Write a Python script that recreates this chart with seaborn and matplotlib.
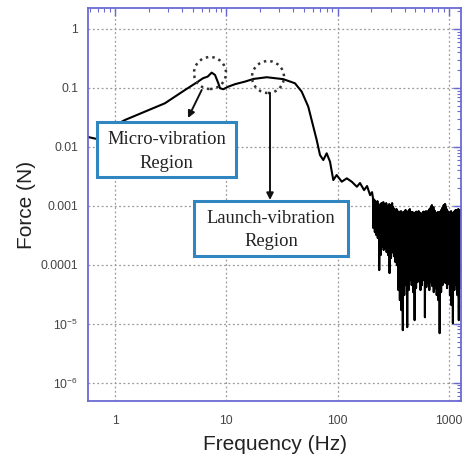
import numpy as np
import pandas as pd
import matplotlib
matplotlib.use("Agg")
import matplotlib.pyplot as plt
import seaborn as sns
from matplotlib.patches import Rectangle, Ellipse
from matplotlib.ticker import FixedLocator, FixedFormatter, LogLocator, NullFormatter

# ---------------- data ----------------
smooth_freq = [0.572, 0.689, 0.902, 1.23, 1.86, 2.81, 4.26, 5.57, 6.17, 6.81, 7.39, 7.92,
               8.48, 8.78, 9.40, 10.4, 12.0, 14.7, 17.5, 23.1, 32.5, 41.4, 47.6, 54.5,
               60.5, 64.9, 69.5, 74.4, 79.8, 85.5, 91.5, 98.1, 109, 121, 134, 149,
               159, 173, 184, 196, 204]
smooth_force = [0.01473, 0.01361, 0.02094, 0.02864, 0.03963, 0.05499, 0.0925, 0.128, 0.146,
                0.156, 0.182, 0.166, 0.120, 0.0989, 0.0951, 0.105, 0.116, 0.128, 0.142,
                0.152, 0.141, 0.120, 0.0866, 0.0482, 0.0221, 0.0131, 0.00728, 0.00599,
                0.00779, 0.00561, 0.00274, 0.00333, 0.00257, 0.00293, 0.00257, 0.00211,
                0.00244, 0.00185, 0.00217, 0.00152, 0.00171]

# noisy high-frequency part: local maxima / deep minima / maxima / body minima
noise_hi = [1.356e-3, 1.254e-3, 1.160e-3, 1.206e-3, 9.92e-4, 1.073e-3, 1.115e-3, 1.160e-3,
            1.032e-3, 1.115e-3, 9.54e-4, 1.073e-3, 9.92e-4, 1.115e-3, 9.18e-4, 8.49e-4,
            8.83e-4, 7.85e-4, 7.55e-4, 8.16e-4, 7.26e-4, 7.85e-4, 8.49e-4, 7.55e-4,
            8.16e-4, 8.83e-4, 7.55e-4, 7.85e-4, 6.98e-4, 7.85e-4, 7.26e-4, 8.16e-4,
            7.55e-4, 6.98e-4, 7.85e-4, 7.26e-4, 8.16e-4, 7.55e-4, 8.49e-4, 9.18e-4,
            1.032e-3, 9.54e-4, 8.16e-4, 7.55e-4, 7.85e-4, 7.26e-4, 8.16e-4, 9.18e-4,
            1.032e-3, 1.073e-3, 8.83e-4, 7.85e-4, 7.55e-4, 8.16e-4, 7.26e-4, 7.85e-4,
            8.49e-4, 8.16e-4, 8.83e-4, 8.49e-4]
noise_lo = [4.20e-4, 3.59e-4, 3.19e-4, 2.84e-4, 8.13e-5, 1.46e-4, 2.16e-4, 1.78e-4,
            1.92e-4, 1.64e-4, 1.46e-4, 7.23e-5, 1.30e-4, 1.78e-4, 1.40e-4, 1.11e-4,
            9.88e-5, 3.72e-5, 2.52e-5, 1.70e-5, 7.78e-6, 3.06e-5, 4.52e-5, 8.76e-6,
            3.72e-5, 5.50e-5, 4.52e-5, 3.44e-5, 1.15e-5, 4.02e-5, 5.08e-5, 5.94e-5,
            3.72e-5, 4.52e-5, 5.50e-5, 1.29e-5, 4.18e-5, 4.89e-5, 3.72e-5, 5.08e-5,
            4.35e-5, 3.44e-5, 4.02e-5, 3.06e-5, 2.52e-5, 6.92e-6, 3.44e-5, 4.52e-5,
            5.50e-5, 4.89e-5, 4.02e-5, 4.70e-5, 3.06e-5, 2.07e-5, 1.02e-5, 3.72e-5,
            4.52e-5, 3.06e-5, 1.15e-5, 4.02e-5]
noise_hi2 = [1.30e-3, 1.20e-3, 1.10e-3, 1.05e-3, 1.02e-3, 1.10e-3, 1.05e-3, 1.00e-3,
             1.08e-3, 9.8e-4, 1.02e-3, 9.5e-4, 1.05e-3, 9.6e-4, 8.8e-4, 8.6e-4,
             8.2e-4, 8.0e-4, 7.6e-4, 7.9e-4, 7.4e-4, 8.1e-4, 8.3e-4, 7.7e-4,
             8.4e-4, 8.0e-4, 7.7e-4, 7.3e-4, 7.6e-4, 8.0e-4, 7.4e-4, 7.8e-4,
             7.2e-4, 7.6e-4, 8.0e-4, 7.5e-4, 7.8e-4, 8.2e-4, 8.9e-4, 9.8e-4,
             9.3e-4, 8.5e-4, 7.7e-4, 7.4e-4, 7.7e-4, 7.9e-4, 8.6e-4, 9.6e-4,
             1.05e-3, 9.5e-4, 8.3e-4, 7.7e-4, 7.9e-4, 7.5e-4, 7.7e-4, 8.2e-4,
             8.4e-4, 8.6e-4, 8.3e-4, 8.0e-4]
noise_mid = [4.5e-4, 3.9e-4, 3.4e-4, 3.0e-4, 2.2e-4, 2.0e-4, 2.3e-4, 1.9e-4,
             2.1e-4, 1.8e-4, 1.7e-4, 1.5e-4, 1.6e-4, 1.9e-4, 1.5e-4, 1.3e-4,
             1.1e-4, 7.0e-5, 6.0e-5, 5.0e-5, 6.5e-5, 5.5e-5, 7.0e-5, 5.0e-5,
             6.0e-5, 7.5e-5, 6.0e-5, 5.5e-5, 6.5e-5, 6.0e-5, 7.0e-5, 8.0e-5,
             6.0e-5, 6.5e-5, 7.5e-5, 5.5e-5, 6.0e-5, 7.0e-5, 5.5e-5, 7.0e-5,
             6.5e-5, 5.0e-5, 6.0e-5, 5.0e-5, 4.5e-5, 5.5e-5, 5.0e-5, 6.5e-5,
             7.5e-5, 7.0e-5, 6.0e-5, 6.5e-5, 5.0e-5, 4.5e-5, 5.5e-5, 6.0e-5,
             6.5e-5, 5.0e-5, 4.5e-5, 5.5e-5]
noise_freq_start, noise_freq_end = 208, 1285

y_ticks = [1e-6, 1e-5, 1e-4, 1e-3, 1e-2, 1e-1, 1]
y_tick_labels = ["10$^{-6}$", "10$^{-5}$", "0.0001", "0.001", "0.01", "0.1", "1"]
x_ticks = [1, 10, 100, 1000]
x_tick_labels = ["1", "10", "100", "1000"]

# ---------------- build frame ----------------
noise_vals = []
for a, b, c, d in zip(noise_hi, noise_lo, noise_hi2, noise_mid):
    noise_vals += [a, b, c, d]
noise_freq = np.geomspace(noise_freq_start, noise_freq_end, len(noise_vals))
freq = np.concatenate([smooth_freq, noise_freq])
force = np.concatenate([smooth_force, noise_vals])
df = pd.DataFrame({"Frequency": freq, "Force": force})

# ---------------- style ----------------
sns.set_style("white")
plt.rcParams["font.family"] = ["Liberation Sans", "DejaVu Sans"]
plt.rcParams["mathtext.fontset"] = "custom"
plt.rcParams["mathtext.rm"] = "Liberation Sans"
plt.rcParams["mathtext.it"] = "Liberation Sans"

spine_col = "#6a6ad2"
box_col = "#2f86c0"

fig = plt.figure(figsize=(4.65, 4.61), dpi=100)
ax = fig.add_axes([88/465, 1-401/461, 373/465, 393/461])

sns.lineplot(data=df, x="Frequency", y="Force", sort=False, estimator=None,
             color="black", lw=1.5, ax=ax, zorder=2)

ax.set_xscale("log")
ax.set_yscale("log")
ax.set_xlim(0.572, 1285)
ax.set_ylim(4.9e-7, 2.27)

ax.xaxis.set_major_locator(FixedLocator(x_ticks))
ax.xaxis.set_major_formatter(FixedFormatter(x_tick_labels))
ax.yaxis.set_major_locator(FixedLocator(y_ticks))
ax.yaxis.set_major_formatter(FixedFormatter(y_tick_labels))
ax.xaxis.set_minor_locator(LogLocator(base=10, subs=np.arange(2, 10), numticks=20))
ax.yaxis.set_minor_locator(LogLocator(base=10, subs=np.arange(2, 10), numticks=20))
ax.xaxis.set_minor_formatter(NullFormatter())
ax.yaxis.set_minor_formatter(NullFormatter())

ax.tick_params(which="both", direction="in", top=True, right=True,
               color=spine_col, labelcolor="#444444", labelsize=8.7)
ax.tick_params(axis="x", which="major", pad=10)
ax.tick_params(axis="y", which="major", pad=7)
ax.tick_params(which="major", length=6, width=1.0)
ax.tick_params(which="minor", length=3, width=0.8)
for s in ax.spines.values():
    s.set_color(spine_col)
    s.set_linewidth(1.3)

ax.grid(True, which="major", linestyle=(0, (1.5, 2)), color="#9a9a9a", lw=0.9)

ax.set_xlabel("Frequency (Hz)", fontsize=15, color="#222222", labelpad=6)
ax.set_ylabel("Force (N)", fontsize=15, color="#222222", labelpad=3)

# ---------------- annotations ----------------
serif = ["Liberation Serif", "DejaVu Serif"]
tr = ax.transAxes
ax.add_patch(Rectangle((9/373, (401-177)/393), 139/373, 55/393, transform=tr,
                       facecolor="white", edgecolor=box_col, lw=2.2, zorder=3, clip_on=False))
ax.add_patch(Rectangle((106/373, (401-256)/393), 154/373, 55/393, transform=tr,
                       facecolor="white", edgecolor=box_col, lw=2.2, zorder=3, clip_on=False))
txt_kw = dict(transform=tr, ha="center", va="center", family=serif, fontsize=13.3,
              color="#222222", zorder=4)
ax.text(78.5/373, (401-139.5)/393, "Micro-vibration", **txt_kw)
ax.text(78.5/373, (401-163)/393, "Region", **txt_kw)
ax.text(183/373, (401-218.5)/393, "Launch-vibration", **txt_kw)
ax.text(183/373, (401-241.5)/393, "Region", **txt_kw)

for cx, cy in [(210, 73), (268, 77)]:
    ax.add_patch(Ellipse(((cx-88)/373, (401-cy)/393), 32/373, 32/393, transform=tr,
                         facecolor="none", edgecolor="#333333", lw=1.8,
                         linestyle=(0, (1, 1.6)), zorder=5))

ax.annotate("", xy=(100/373, 283/393), xytext=(113.7/373, 311/393), xycoords=tr,
            arrowprops=dict(arrowstyle="-|>", color="#111111", lw=1.4, mutation_scale=10,
                            shrinkA=0, shrinkB=0), zorder=5)
ax.annotate("", xy=(182/373, 201/393), xytext=(182/373, 308/393), xycoords=tr,
            arrowprops=dict(arrowstyle="-|>", color="#111111", lw=1.4, mutation_scale=10,
                            shrinkA=0, shrinkB=0), zorder=5)

fig.savefig("out.png", dpi=100)
